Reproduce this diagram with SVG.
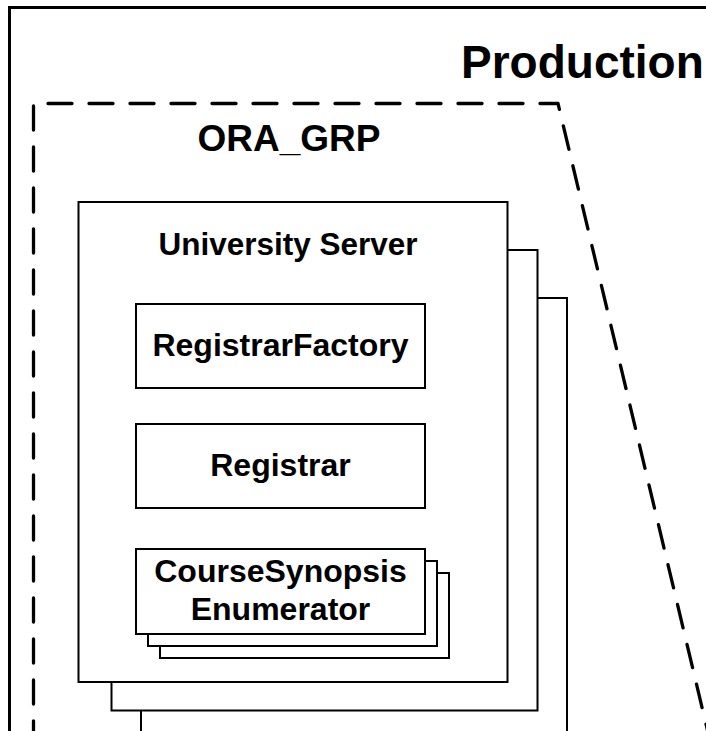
<svg xmlns="http://www.w3.org/2000/svg" width="706" height="731" viewBox="0 0 706 731">
<style>
.frame{fill:none;stroke:#000;stroke-width:3}
.dash{fill:none;stroke:#000;stroke-width:3.3;stroke-dasharray:24 17;stroke-linecap:round;stroke-linejoin:round}
.box{fill:#fff;stroke:#000;stroke-width:2}
.t{font-family:"Liberation Sans",Arial,sans-serif;font-weight:bold;fill:#000;text-anchor:middle}
</style>
<rect width="706" height="731" fill="#fff"/>
<g id="production">
<rect class="frame" x="9.5" y="7.5" width="720" height="740"/>
<text class="t" x="461" y="78" font-size="46" style="text-anchor:start">Production</text>
</g>
<g id="ora_grp">
<path class="dash" d="M33.5,745 L33.5,103.5 L558,103.5 L711,745"/>
<text class="t" x="289" y="151" font-size="37">ORA_GRP</text>
</g>
<g id="university_server">
<rect class="box" x="141" y="298" width="426" height="450"/>
<rect class="box" x="111.5" y="250" width="426" height="460.5"/>
<rect class="box" x="78.5" y="202" width="429" height="480"/>
<text class="t" x="288" y="255" font-size="31.5">University Server</text>
</g>
<g id="registrar_factory">
<rect class="box" x="136" y="304" width="289" height="84"/>
<text class="t" x="280.5" y="356" font-size="32">RegistrarFactory</text>
</g>
<g id="registrar">
<rect class="box" x="136" y="424" width="289" height="84"/>
<text class="t" x="280.5" y="476" font-size="32">Registrar</text>
</g>
<g id="course_synopsis_enumerator">
<rect class="box" x="160" y="573" width="289" height="85"/>
<rect class="box" x="148" y="561" width="289" height="85"/>
<rect class="box" x="136" y="549" width="289" height="85"/>
<text class="t" x="280.5" y="582" font-size="32">CourseSynopsis</text>
<text class="t" x="280.5" y="620" font-size="32">Enumerator</text>
</g>
<g id="connectors"></g>
</svg>
